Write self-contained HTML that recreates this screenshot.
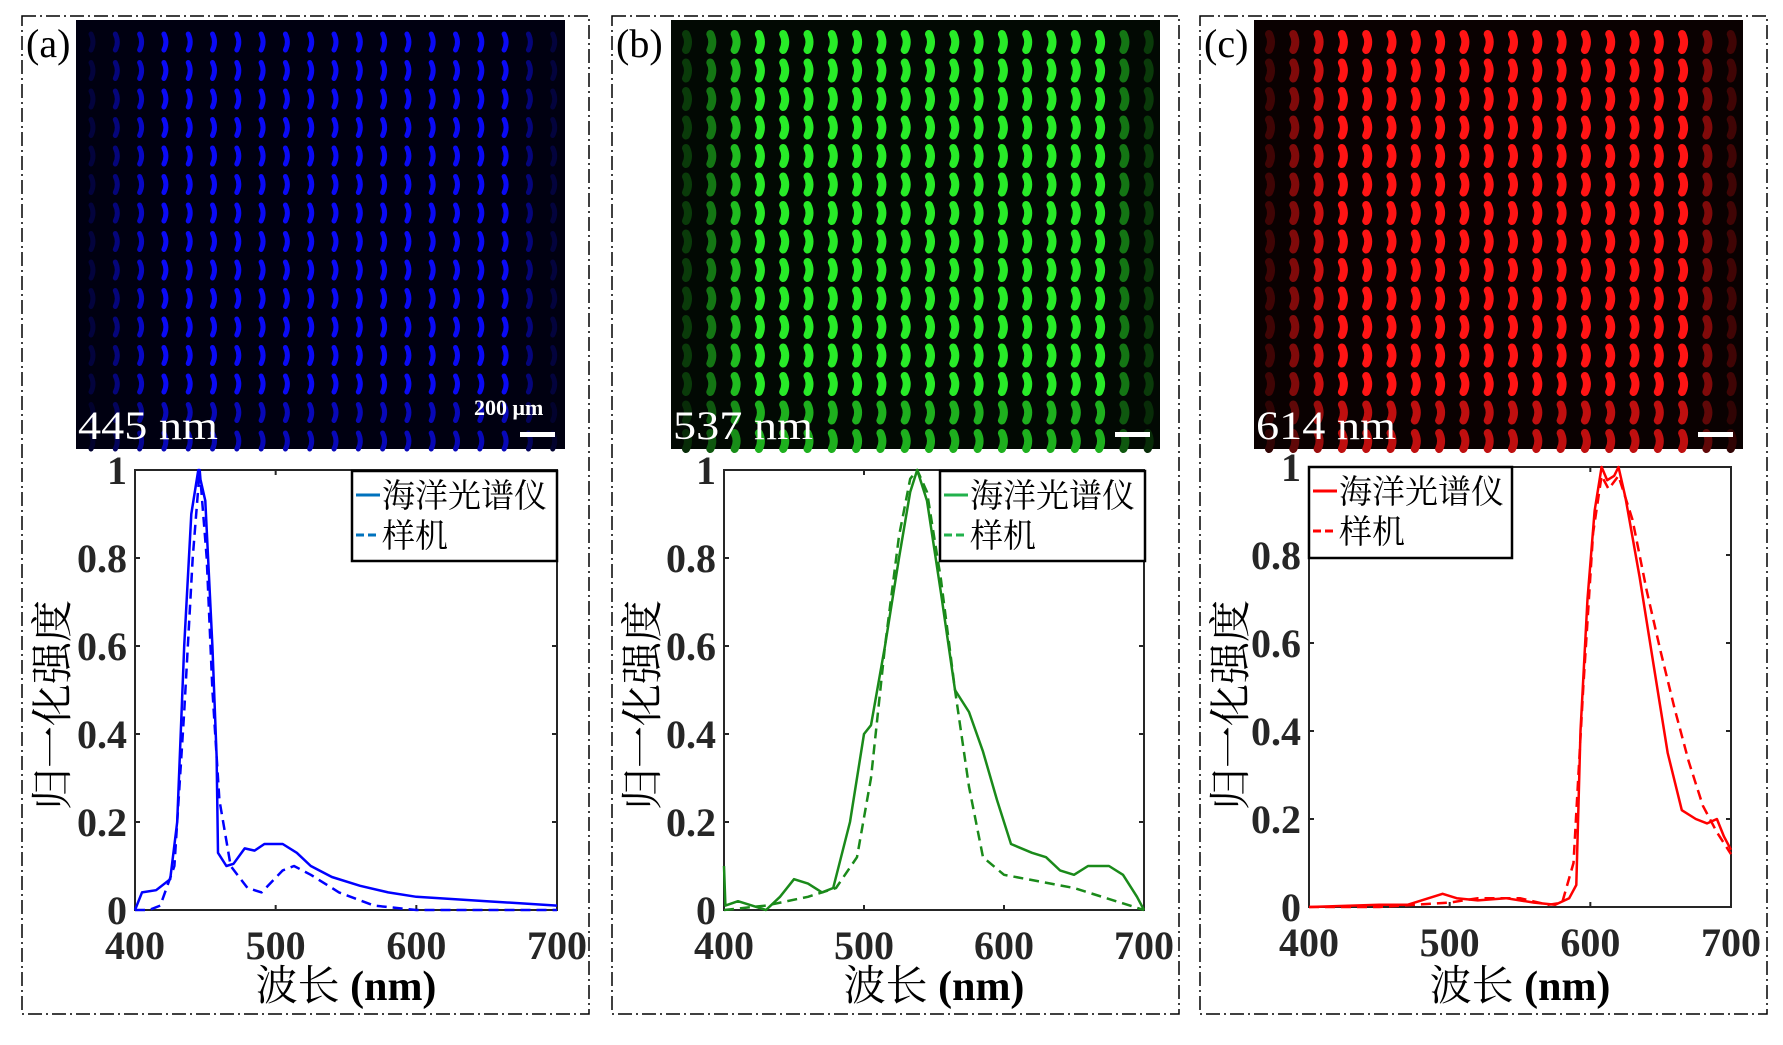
<!DOCTYPE html>
<html><head><meta charset="utf-8"><style>
body{margin:0;background:#fff;width:1783px;height:1040px;overflow:hidden}
svg text{font-family:"Liberation Serif","Noto Serif CJK SC",serif}
</style></head><body>
<svg id="s" width="1783" height="1040" xmlns="http://www.w3.org/2000/svg"></svg>
<script>
const S=document.getElementById('s');let h='';
const panels=[
 {fx:22,img:76,ax:135,ay0:470,ay1:910,ax1:557,col:'#0000ff',lc:'#0072bd',lab:'(a)',wl:'445 nm',bright:[10,10,245],leg:[352,471,205,90],
  sol:[[400,0],[405,.04],[415,.045],[425,.07],[430,.2],[435,.6],[440,.9],[445,1],[450,.93],[455,.6],[458,.35],[459,.13],[465,.1],[470,.105],[478,.14],[485,.135],[492,.15],[505,.15],[515,.13],[525,.1],[540,.075],[560,.055],[580,.04],[600,.03],[650,.02],[700,.01]],
  das:[[400,0],[410,0],[418,.01],[428,.1],[435,.45],[441,.8],[446,1],[451,.8],[455,.5],[460,.25],[468,.1],[480,.05],[490,.04],[505,.09],[513,.1],[525,.08],[545,.04],[570,.01],[600,0],[700,0]]},
 {fx:612,img:671,ax:724,ay0:470,ay1:910,ax1:1144,col:'#1a8a1a',lc:'#22b14c',lab:'(b)',wl:'537 nm',bright:[40,235,40],leg:[940,471,205,90],
  sol:[[400,.1],[401,.01],[410,.02],[420,.01],[430,0],[440,.03],[450,.07],[460,.06],[470,.04],[478,.05],[490,.2],[500,.4],[505,.42],[515,.6],[525,.8],[533,.95],[538,1],[545,.93],[555,.72],[565,.5],[575,.45],[585,.36],[595,.25],[605,.15],[620,.13],[630,.12],[640,.09],[650,.08],[660,.1],[675,.1],[685,.08],[695,.03],[700,0]],
  das:[[400,0],[430,.01],[460,.03],[480,.05],[495,.12],[505,.3],[515,.6],[525,.85],[533,.98],[538,1],[545,.95],[555,.75],[565,.5],[575,.28],[585,.12],[600,.08],[650,.05],[700,0]]},
 {fx:1200,img:1254,ax:1309,ay0:467,ay1:907,ax1:1731,col:'#ff0000',lc:'#ff0000',lab:'(c)',wl:'614 nm',bright:[255,20,20],leg:[1309,467,203,91],
  sol:[[400,0],[450,.005],[470,.005],[485,.02],[495,.03],[505,.02],[520,.015],[540,.02],[560,.01],[575,.005],[585,.02],[590,.05],[593,.4],[598,.7],[603,.9],[608,1],[612,.97],[617,.98],[620,1],[625,.93],[635,.75],[645,.55],[655,.35],[665,.22],[675,.2],[683,.19],[690,.2],[695,.16],[700,.13]],
  das:[[400,0],[450,0],[500,.01],[520,.02],[550,.02],[570,.005],[580,.01],[588,.1],[595,.5],[602,.85],[608,.98],[613,.95],[620,.98],[630,.88],[640,.72],[650,.58],[660,.45],[670,.33],[680,.23],[690,.17],[700,.12]]}
];
panels.forEach((p,pi)=>{
 h+=`<rect x="${p.fx}" y="16" width="567" height="998" fill="none" stroke="#000" stroke-width="1.5" stroke-dasharray="14,4,2,4"/>`;
 const iw=489,ih=429,iy=20;
 const b=p.bright;
 h+=`<rect x="${p.img}" y="${iy}" width="${iw}" height="${ih}" fill="rgb(${Math.round(b[0]*.04)},${Math.round(b[1]*.04)},${Math.round(b[2]*.07)})"/>`;
 for(let c=0;c<20;c++){
  const cx=p.img+16+c*24.3;
  let f=1; if(c==0)f=.25; if(c==1)f=.5; if(c==2)f=.8; if(c==18)f=.5; if(c==19)f=.25;
  for(let r=0;r<15;r++){
   const cy=iy+14+r*28.5;
   let g=f; if(r>12)g*=.75;
   const col=`rgb(${Math.round(b[0]*g)},${Math.round(b[1]*g)},${Math.round(b[2]*g)})`;
   const w=pi==0?5:8;
   h+=`<path d="M${cx-1} ${cy} Q${cx+3} ${cy+8} ${cx-1} ${cy+16}" stroke="${col}" stroke-width="${w}" stroke-linecap="round" fill="none"/>`;
  }
 }
 h+=`<text x="${p.fx+4}" y="57" font-size="40">${p.lab}</text>`;
 h+=`<text x="${p.img+2}" y="439" font-size="40" fill="#fff" textLength="140" lengthAdjust="spacingAndGlyphs">${p.wl}</text>`;
 h+=`<rect x="${p.img+444}" y="432" width="35" height="5" fill="#fff"/>`;
 if(pi==0)h+=`<text x="${p.img+398}" y="415" font-size="22" font-weight="bold" fill="#fff">200 μm</text>`;
 const X=v=>p.ax+(v-400)/300*(p.ax1-p.ax), Y=v=>p.ay1-v*(p.ay1-p.ay0);
 h+=`<rect x="${p.ax}" y="${p.ay0}" width="${p.ax1-p.ax}" height="${p.ay1-p.ay0}" fill="#fff" stroke="#262626" stroke-width="2"/>`;
 for(let v=400;v<=700;v+=100){h+=`<line x1="${X(v)}" x2="${X(v)}" y1="${p.ay1}" y2="${p.ay1-5}" stroke="#262626" stroke-width="2"/><line x1="${X(v)}" x2="${X(v)}" y1="${p.ay0}" y2="${p.ay0+5}" stroke="#262626" stroke-width="2"/>`;
  h+=`<text x="${X(v)}" y="${p.ay1+49}" font-size="40" font-weight="bold" text-anchor="middle" fill="#262626">${v}</text>`;}
 for(let i=0;i<=5;i++){const v=i*.2;h+=`<line x1="${p.ax}" x2="${p.ax+5}" y1="${Y(v)}" y2="${Y(v)}" stroke="#262626" stroke-width="2"/><line x1="${p.ax1}" x2="${p.ax1-5}" y1="${Y(v)}" y2="${Y(v)}" stroke="#262626" stroke-width="2"/>`;
  h+=`<text x="${p.ax-8}" y="${Y(v)+14}" font-size="40" font-weight="bold" text-anchor="end" fill="#262626">${i==0?'0':i==5?'1':v.toFixed(1)}</text>`;}
 const pts=a=>a.map(q=>X(q[0]).toFixed(1)+','+Y(q[1]).toFixed(1)).join(' ');
 h+=`<polyline points="${pts(p.sol)}" fill="none" stroke="${p.col}" stroke-width="2.5" stroke-linejoin="round"/>`;
 h+=`<polyline points="${pts(p.das)}" fill="none" stroke="${p.col}" stroke-width="2.5" stroke-dasharray="10,6" stroke-linejoin="round"/>`;
 const L=p.leg;
 h+=`<rect x="${L[0]}" y="${L[1]}" width="${L[2]}" height="${L[3]}" fill="#fff" stroke="#000" stroke-width="2.5"/>`;
 h+=`<line x1="${L[0]+4}" x2="${L[0]+28}" y1="${L[1]+24}" y2="${L[1]+24}" stroke="${p.lc}" stroke-width="3"/>`;
 h+=`<line x1="${L[0]+4}" x2="${L[0]+28}" y1="${L[1]+64}" y2="${L[1]+64}" stroke="${p.lc}" stroke-width="3" stroke-dasharray="8,4"/>`;
 h+=`<text x="${L[0]+30}" y="${L[1]+36}" font-size="33">海洋光谱仪</text>`;
 h+=`<text x="${L[0]+30}" y="${L[1]+76}" font-size="33">样机</text>`;
 const mx=(p.ax+p.ax1)/2;
 h+=`<text x="${mx}" y="1000" font-size="42" text-anchor="middle"><tspan>波长 </tspan><tspan font-weight="bold">(nm)</tspan></text>`;
 h+=`<text transform="translate(${p.fx+45},705) rotate(-90)" font-size="42" text-anchor="middle">归一化强度</text>`;
});
S.innerHTML=h;
</script>
</body></html>
